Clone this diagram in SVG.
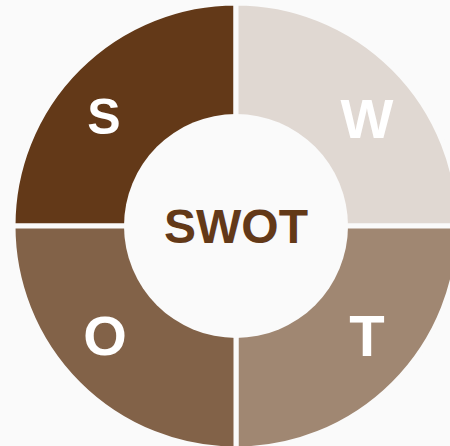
<svg xmlns="http://www.w3.org/2000/svg" width="450" height="446" viewBox="0 0 450 446">
<style>
.q{stroke:#FAFAFA;stroke-width:5}
.l{font-family:"Liberation Sans",Arial,sans-serif;font-weight:bold;fill:#FFFFFF;text-anchor:middle}
</style>
<rect width="450" height="446" fill="#FAFAFA"/>
<g id="S"><path class="q" d="M236,226 L13,226 A223,223 0 0 1 236,3 Z" fill="#633918"/><text class="l" x="104" y="134" font-size="50">S</text></g>
<g id="W"><path class="q" d="M236,226 L236,3 A223,223 0 0 1 459,226 Z" fill="#E0D8D2"/><text class="l" x="367" y="138" font-size="56">W</text></g>
<g id="T"><path class="q" d="M236,226 L459,226 A223,223 0 0 1 236,449 Z" fill="#A08772"/><text class="l" x="367" y="356" font-size="58">T</text></g>
<g id="O"><path class="q" d="M236,226 L236,449 A223,223 0 0 1 13,226 Z" fill="#826248"/><text class="l" x="105" y="355" font-size="56">O</text></g>
<g id="center"><circle cx="236" cy="226" r="112" fill="#FAFAFA"/><text x="236" y="243" font-family="Liberation Sans,Arial,sans-serif" font-weight="bold" font-size="48" fill="#633918" text-anchor="middle">SWOT</text></g>
</svg>
